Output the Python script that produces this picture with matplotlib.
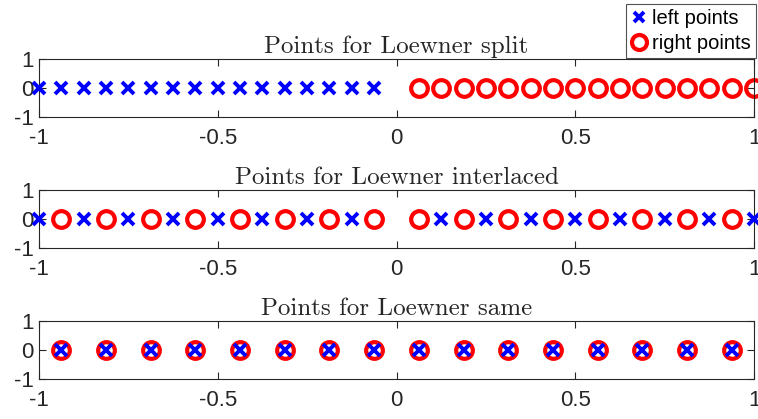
import numpy as np
import matplotlib
matplotlib.use("Agg")
import matplotlib.pyplot as plt

plt.rcParams["font.family"] = ["Liberation Sans", "DejaVu Sans"]
plt.rcParams["axes.unicode_minus"] = False

# point sets (x positions, all at y = 0)
split_left = [-1.0, -0.9375, -0.875, -0.8125, -0.75, -0.6875, -0.625, -0.5625,
              -0.5, -0.4375, -0.375, -0.3125, -0.25, -0.1875, -0.125, -0.0625]
split_right = [0.0625, 0.125, 0.1875, 0.25, 0.3125, 0.375, 0.4375, 0.5,
               0.5625, 0.625, 0.6875, 0.75, 0.8125, 0.875, 0.9375, 1.0]

inter_left = [-1.0, -0.875, -0.75, -0.625, -0.5, -0.375, -0.25, -0.125,
              0.125, 0.25, 0.375, 0.5, 0.625, 0.75, 0.875, 1.0]
inter_right = [-0.9375, -0.8125, -0.6875, -0.5625, -0.4375, -0.3125, -0.1875, -0.0625,
               0.0625, 0.1875, 0.3125, 0.4375, 0.5625, 0.6875, 0.8125, 0.9375]

same_left = [-0.9375, -0.8125, -0.6875, -0.5625, -0.4375, -0.3125, -0.1875, -0.0625,
             0.0625, 0.1875, 0.3125, 0.4375, 0.5625, 0.6875, 0.8125, 0.9375]
same_right = list(same_left)

titles = ["Points for Loewner split", "Points for Loewner interlaced", "Points for Loewner same"]
panels = [(split_left, split_right), (inter_left, inter_right), (same_left, same_right)]

x_ticks = [-1, -0.5, 0, 0.5, 1]
x_ticklabels = ["-1", "-0.5", "0", "0.5", "1"]
y_ticks = [-1, 0, 1]
y_ticklabels = ["-1", "0", "1"]

W, H = 758, 419
fig = plt.figure(figsize=(W / 100, H / 100), dpi=100)

ax_left, ax_right = 39, 754
tops = [59, 190, 321]
height = 58

edge = "#262626"
for i, (top, title, (lpts, rpts)) in enumerate(zip(tops, titles, panels)):
    ax = fig.add_axes([ax_left / W, 1 - (top + height) / H, (ax_right - ax_left) / W, height / H])
    hl, = ax.plot(lpts, np.zeros(len(lpts)), linestyle="none", marker="x", color="blue",
                  markersize=8, markeredgewidth=2.8, clip_on=False, zorder=3)
    hr, = ax.plot(rpts, np.zeros(len(rpts)), linestyle="none", marker="o", markerfacecolor="none",
                  markeredgecolor="red", markersize=12, markeredgewidth=3, clip_on=False, zorder=2)
    ax.set_xlim(-1, 1)
    ax.set_ylim(-1, 1)
    ax.set_xticks(x_ticks)
    ax.set_xticklabels(x_ticklabels)
    ax.set_yticks(y_ticks)
    ax.set_yticklabels(y_ticklabels)
    ax.tick_params(direction="in", top=True, right=True, length=5, width=0.8, colors=edge,
                   labelsize=16, labelcolor="#262626")
    ax.tick_params(axis="x", pad=8)
    ax.tick_params(axis="y", pad=4)
    for s in ax.spines.values():
        s.set_color(edge)
        s.set_linewidth(0.8)
    ax.set_title(title, family="cmr10", fontsize=18, color="#262626", pad=4)
    if i == 0:
        leg = fig.legend([hl, hr], ["left points", "right points"],
                         loc="upper right", bbox_to_anchor=(756 / W, 1 - 4 / H),
                         fontsize=14.5, frameon=True, fancybox=False,
                         handlelength=0.8, handletextpad=0.25, borderpad=0.25,
                         labelspacing=0.3, borderaxespad=0, markerscale=0.9)
        leg.get_frame().set_edgecolor(edge)
        leg.get_frame().set_linewidth(0.8)

fig.savefig("out.png", dpi=100)
